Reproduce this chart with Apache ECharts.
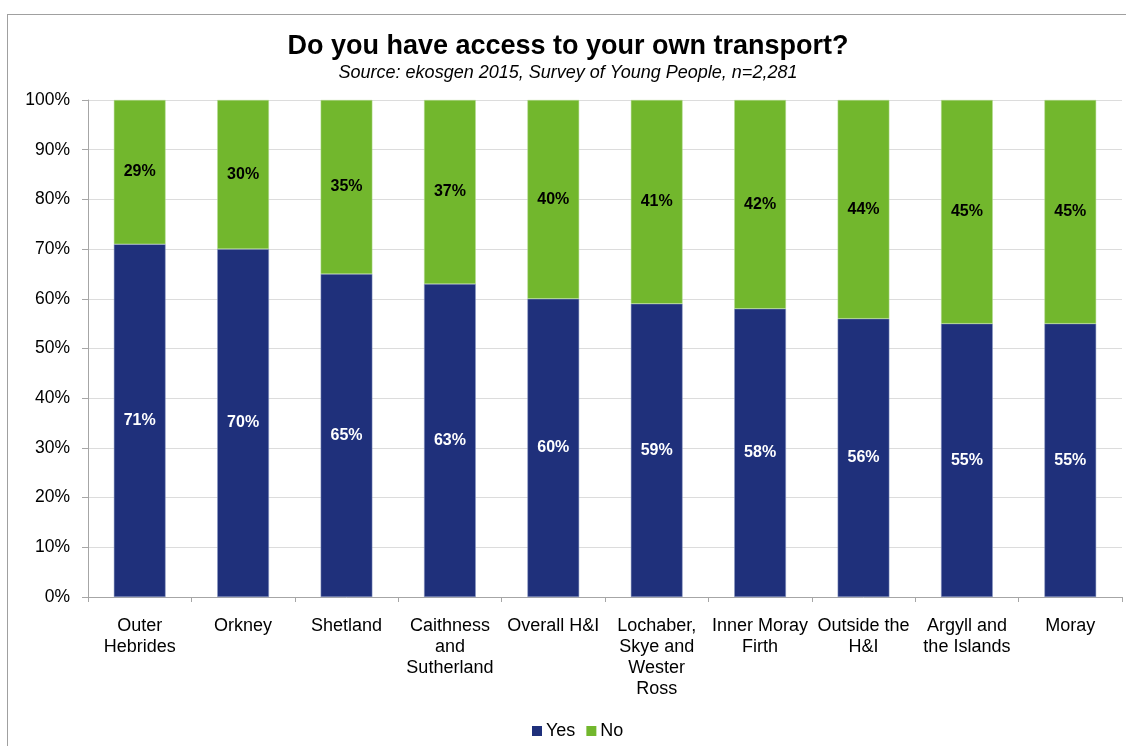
<!DOCTYPE html>
<html>
<head>
<meta charset="utf-8">
<script src="https://cdn.jsdelivr.net/npm/echarts@6/dist/echarts.min.js"></script>
<style>
  html, body { margin: 0; padding: 0; background: #fff; }
  #frame { position: absolute; left: 7px; top: 14px; width: 1140px; height: 760px; border: 1px solid #a0a0a0; box-sizing: border-box; }
  #chart { position: absolute; left: 0; top: 0; width: 1126px; height: 746px; }
</style>
</head>
<body>
<div id="frame"></div>
<div id="chart"></div>
<script>
// Regions surveyed, in display order
const regions = ['Outer\nHebrides', 'Orkney', 'Shetland', 'Caithness\nand\nSutherland', 'Overall H&I',
  'Lochaber,\nSkye and\nWester\nRoss', 'Inner Moray\nFirth', 'Outside the\nH&I', 'Argyll and\nthe Islands', 'Moray'];
// Share of young people with access to their own transport (%)
const yesShare = [71, 70, 65, 63, 60, 59, 58, 56, 55, 55];
const noShare = [29, 30, 35, 37, 40, 41, 42, 44, 45, 45];

const font = '"Liberation Sans", Arial, sans-serif';
const chart = echarts.init(document.getElementById('chart'));

chart.setOption({
  animation: false,
  title: {
    text: 'Do you have access to your own transport?',
    subtext: 'Source: ekosgen 2015, Survey of Young People, n=2,281',
    left: 563, textAlign: 'center', top: 28, itemGap: 4,
    textStyle: { fontFamily: font, fontSize: 27, fontWeight: 'bold', color: '#000' },
    subtextStyle: { fontFamily: font, fontSize: 18, fontStyle: 'italic', color: '#000' }
  },
  legend: {
    bottom: 1, left: 527, itemWidth: 10, itemHeight: 10, itemGap: 11,
    icon: 'rect',
    itemStyle: { borderWidth: 0 },
    textStyle: { fontFamily: font, fontSize: 18, color: '#000', padding: [0, 0, 0, -1] },
    data: ['Yes', 'No']
  },
  grid: { left: 88, right: 4, top: 100, bottom: 149, containLabel: false },
  xAxis: {
    type: 'category', data: regions,
    axisLine: { lineStyle: { color: '#a6a6a6' } },
    axisTick: { show: true, length: 5, lineStyle: { color: '#a6a6a6' } },
    axisLabel: { interval: 0, fontFamily: font, fontSize: 18, color: '#000', lineHeight: 21, margin: 19 }
  },
  yAxis: {
    type: 'value', min: 0, max: 100, interval: 10,
    axisLine: { show: true, lineStyle: { color: '#a6a6a6' } },
    axisTick: { show: true, length: 6, lineStyle: { color: '#a6a6a6' } },
    splitLine: { lineStyle: { color: '#dcdcdc' } },
    axisLabel: { formatter: '{value}%', fontFamily: font, fontSize: 17.5, color: '#000', margin: 18 }
  },
  series: [
    {
      name: 'Yes', type: 'bar', stack: 'total', data: yesShare, barWidth: '50%',
      itemStyle: { color: '#1f307b', borderColor: '#8d9ac4', borderWidth: 0.5 },
      label: { show: true, position: 'inside', formatter: '{c}%', fontFamily: font, fontSize: 16, fontWeight: 'bold', color: '#fff' }
    },
    {
      name: 'No', type: 'bar', stack: 'total', data: noShare, barWidth: '50%',
      itemStyle: { color: '#72b72d', borderColor: '#b7dc94', borderWidth: 0.5 },
      label: { show: true, position: 'inside', formatter: '{c}%', fontFamily: font, fontSize: 16, fontWeight: 'bold', color: '#000' }
    }
  ]
});
</script>
</body>
</html>
